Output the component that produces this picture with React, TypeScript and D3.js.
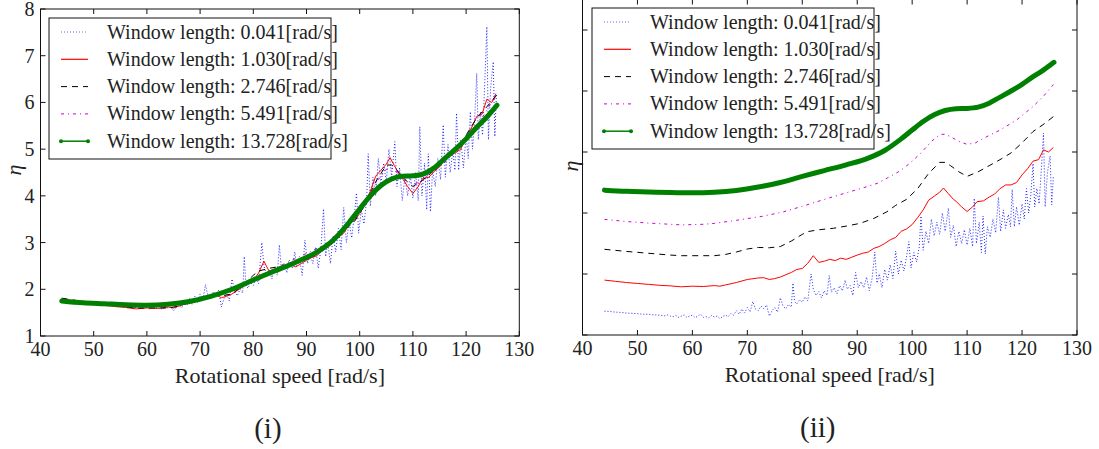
import React from 'react';
import * as d3 from 'd3';

// ---------------- data ----------------
const xTicks = [40, 50, 60, 70, 80, 90, 100, 110, 120, 130];
const leftYTicks = [1, 2, 3, 4, 5, 6, 7, 8];
const rightYTicks = [1, 3, 5, 7, 9, 11];
const windowLengths = ['0.041', '1.030', '2.746', '5.491', '13.728'];
const stackOffsets = [0, 1, 2, 3, 4];
const xLabel = 'Rotational speed [rad/s]';
const yLabel = 'η';
const captions = ['(i)', '(ii)'];

// Window length 0.041 (noisy)
const blueSpeed = [
  44, 45, 46, 47, 48, 49, 50, 51, 52, 53, 54, 55, 55.5, 56, 56.5, 57, 57.5, 58, 58.5, 59, 59.5, 60, 60.5, 61, 61.5, 62,
  62.5, 63, 63.5, 64, 64.5, 65, 65.5, 66, 66.5, 67, 67.5, 68, 68.5, 69, 69.5, 70, 70.5, 71, 71.5, 72, 72.5, 73, 73.5,
  74, 74.5, 75, 75.5, 76, 76.5, 77, 77.5, 78, 78.3, 78.6, 79, 79.5, 80, 80.5, 81, 81.6, 82, 82.5, 83, 83.5, 84, 84.5,
  84.9, 85.3, 85.8, 86.3, 86.8, 87.3, 87.8, 88.2, 88.7, 89.2, 89.7, 90.2, 90.7, 91.2, 91.7, 92.2, 92.7, 93.2, 93.6, 94,
  94.5, 95, 95.5, 96, 96.5, 97, 97.5, 98, 98.5, 99, 99.4, 99.8, 100.3, 100.8, 101.3, 101.6, 102, 102.5, 103, 103.5, 104,
  104.5, 105, 105.5, 106, 106.6, 107, 107.5, 108, 108.5, 109, 109.5, 110, 110.5, 111, 111.3, 111.7, 112.2, 112.6, 112.9,
  113.3, 113.7, 114.2, 114.7, 115.2, 115.7, 116.1, 116.6, 117, 117.5, 117.9, 118.2, 118.6, 119, 119.5, 120, 120.4, 120.8,
  121.2, 121.6, 122, 122.3, 122.7, 123.1, 123.5, 123.9, 124.2, 124.6, 125.1, 125.4, 125.7,
];
const blueEta = [
  1.78, 1.77, 1.75, 1.74, 1.72, 1.71, 1.7, 1.68, 1.68, 1.66, 1.65, 1.63, 1.66, 1.62, 1.6, 1.64, 1.58, 1.62, 1.66, 1.58, 1.62,
  1.65, 1.57, 1.62, 1.68, 1.58, 1.6, 1.56, 1.64, 1.59, 1.62, 1.54, 1.6, 1.66, 1.6, 1.7, 1.65, 1.8, 1.68, 1.85, 1.72, 1.9,
  1.76, 2.1, 1.85, 1.8, 1.95, 1.86, 1.98, 1.62, 1.8, 1.9, 1.75, 2.22, 1.95, 1.86, 2.0, 1.92, 2.7, 2.1, 2.02, 2.15, 2.08,
  2.25, 2.12, 3.0, 2.5, 2.3, 2.42, 2.22, 2.45, 2.3, 2.95, 2.4, 2.55, 2.35, 2.62, 2.45, 2.8, 2.5, 2.62, 2.3, 3.05, 2.55,
  2.75, 2.55, 2.9, 2.45, 2.85, 3.72, 2.7, 3.0, 2.55, 3.15, 2.8, 3.3, 2.85, 3.75, 3.0, 3.45, 3.1, 3.6, 4.06, 3.2, 3.7,
  3.4, 3.9, 4.9, 3.78, 4.4, 4.0, 4.8, 4.25, 4.7, 4.3, 5.0, 4.4, 5.16, 4.2, 4.6, 3.9, 4.4, 4.0, 4.45, 3.95, 4.5, 3.9, 5.48,
  4.0, 4.7, 3.7, 4.9, 3.66, 4.55, 4.2, 4.8, 4.35, 5.52, 4.4, 5.1, 4.5, 4.95, 4.55, 5.77, 4.55, 5.2, 4.6, 5.3, 4.8, 5.8,
  5.0, 5.6, 6.62, 5.2, 5.8, 5.3, 6.4, 7.62, 5.2, 6.3, 6.87, 5.27, 6.2,
];

// Window length 1.030
const redSpeed = [
  44, 46, 48, 50, 52, 54, 56, 58, 60, 62, 64, 65, 66, 68, 70, 72, 73, 74, 75, 76, 78, 79, 80, 81, 82, 83, 84, 85, 86, 87,
  88, 89, 90, 91, 92, 93, 94, 95, 96, 97, 98, 99, 100, 101, 102, 103, 104, 105, 105.7, 106.5, 107.5, 108, 109, 110, 111,
  111.8, 113, 114, 115, 116, 117, 118, 119, 120, 121, 122, 123, 123.9, 124.8, 125.7,
];
const redEta = [
  1.8, 1.76, 1.72, 1.69, 1.66, 1.63, 1.61, 1.58, 1.6, 1.59, 1.62, 1.6, 1.64, 1.72, 1.82, 1.87, 1.88, 1.82, 1.85, 1.9,
  2.05, 2.15, 2.18, 2.35, 2.6, 2.38, 2.42, 2.48, 2.44, 2.52, 2.48, 2.55, 2.62, 2.68, 2.72, 2.84, 2.9, 3.0, 3.12, 3.2, 3.4,
  3.48, 3.62, 3.85, 4.1, 4.42, 4.55, 4.68, 4.82, 4.65, 4.45, 4.38, 4.2, 4.05, 4.2, 4.37, 4.4, 4.52, 4.62, 4.8, 4.92, 4.92,
  5.0, 5.25, 5.45, 5.7, 5.75, 6.07, 6.0, 6.15,
];

// Window length 2.746
const blackSpeed = [
  44, 48, 52, 56, 58, 62, 64, 66, 68, 70, 72, 74, 76, 78, 80, 81, 83, 85.7, 88, 90.5, 93, 95.4, 97, 99, 101, 103, 105,
  106, 107, 108.5, 110, 112, 114, 116, 118, 120, 122, 124, 125.7,
];
const blackEta = [
  1.81, 1.74, 1.68, 1.62, 1.6, 1.6, 1.6, 1.64, 1.72, 1.82, 1.87, 1.86, 1.9, 2.08, 2.3, 2.39, 2.45, 2.5, 2.57, 2.66, 2.82,
  3.04, 3.25, 3.45, 3.8, 4.3, 4.66, 4.66, 4.55, 4.35, 4.2, 4.35, 4.55, 4.75, 4.97, 5.3, 5.67, 5.92, 6.16,
];

// Window length 5.491
const magentaSpeed = [
  44, 48, 52, 56, 58, 62, 64, 68, 70.5, 73, 76.6, 80, 82.7, 85, 88.7, 91, 93.6, 95.5, 97.8, 99.5, 101.5, 103.5, 105.1,
  106, 107, 108.5, 110, 111.5, 113, 116, 119, 122, 124, 125.7,
];
const magentaEta = [
  1.79, 1.72, 1.67, 1.63, 1.61, 1.63, 1.66, 1.76, 1.83, 1.9, 2.04, 2.22, 2.37, 2.5, 2.7, 2.82, 2.97, 3.15, 3.38, 3.62,
  3.95, 4.35, 4.58, 4.58, 4.5, 4.35, 4.25, 4.3, 4.45, 4.72, 5.05, 5.49, 5.85, 6.21,
];

// Window length 13.728
const greenSpeed = [
  44, 48, 52, 56, 60, 64, 68, 72, 76, 80, 84, 88, 92, 95, 98, 100, 102, 104, 106, 108, 110, 112, 114, 116, 118, 120, 122,
  124, 125.8,
];
const greenEta = [
  1.75, 1.71, 1.69, 1.67, 1.66, 1.68, 1.74, 1.85, 2.0, 2.2, 2.39, 2.58, 2.8, 3.05, 3.43, 3.72, 4.0, 4.22, 4.36, 4.42, 4.43,
  4.47, 4.6, 4.8, 5.0, 5.22, 5.47, 5.7, 5.94,
];

const seriesSpeed = [blueSpeed, redSpeed, blackSpeed, magentaSpeed, greenSpeed];
const seriesEta = [blueEta, redEta, blackEta, magentaEta, greenEta];

// ---------------- styles ----------------
const FONT = '"Liberation Serif", "DejaVu Serif", serif';
const styles = [
  { stroke: '#0000ff', width: 1, dash: '1 2', legendWidth: 1, marker: false, opacity: 0.85 },
  { stroke: '#ff0000', width: 1, dash: undefined, legendWidth: 1.2, marker: false, opacity: 1 },
  { stroke: '#000000', width: 1, dash: '6 5', legendWidth: 1, marker: false, opacity: 1 },
  { stroke: '#cc00cc', width: 1, dash: '3 4 1 4', legendWidth: 1, marker: false, opacity: 1 },
  { stroke: '#008000', width: 5, dash: undefined, legendWidth: 1.5, marker: true, opacity: 1 },
];

type PanelProps = {
  x: d3.ScaleLinear<number, number>;
  y: d3.ScaleLinear<number, number>;
  yTicks: number[];
  showYTickLabels: boolean;
  offsets: number[];
  legendX: number;
  legendY: number;
  caption: string;
  yLabelX: number;
  yLabelY: number;
};

function Panel({ x, y, yTicks, showYTickLabels, offsets, legendX, legendY, caption, yLabelX, yLabelY }: PanelProps) {
  const [x0, x1] = x.range();
  const [y0, y1] = y.range(); // y0 bottom, y1 top
  const tick = 5;
  const cx = (x0 + x1) / 2;
  const clipId = `clip-${Math.round(x0)}`;
  return (
    <g>
      <defs>
        <clipPath id={clipId}>
          <rect x={x0} y={Math.max(y1, 0)} width={x1 - x0} height={y0 - Math.max(y1, 0)} />
        </clipPath>
      </defs>
      <g clipPath={`url(#${clipId})`}>
        {seriesSpeed.map((sp, i) => {
          const pts = sp.map((s, k) => [s, seriesEta[i][k] + offsets[i]] as [number, number]);
          const line = d3
            .line<[number, number]>()
            .x((d) => x(d[0]))
            .y((d) => y(d[1]))
            .curve(i === 4 ? d3.curveMonotoneX : d3.curveLinear);
          const st = styles[i];
          return (
            <path
              key={i}
              d={line(pts) || ''}
              fill="none"
              stroke={st.stroke}
              strokeWidth={st.width}
              strokeDasharray={st.dash}
              strokeOpacity={st.opacity}
              strokeLinejoin="round"
              strokeLinecap={i === 4 ? 'round' : 'butt'}
            />
          );
        })}
      </g>
      {/* frame */}
      <rect x={x0} y={y1} width={x1 - x0} height={y0 - y1} fill="none" stroke="#111" strokeWidth={1} />
      {/* x ticks */}
      {xTicks.map((t) => (
        <g key={`xt${t}`}>
          <line x1={x(t)} x2={x(t)} y1={y0} y2={y0 - tick} stroke="#111" />
          <line x1={x(t)} x2={x(t)} y1={y1} y2={y1 + tick} stroke="#111" />
          <text x={x(t)} y={y0 + 20} textAnchor="middle" fontFamily={FONT} fontSize={20} fill="#222">
            {t}
          </text>
        </g>
      ))}
      {/* y ticks */}
      {yTicks.map((t) => (
        <g key={`yt${t}`}>
          <line x1={x0} x2={x0 + tick} y1={y(t)} y2={y(t)} stroke="#111" />
          <line x1={x1} x2={x1 - tick} y1={y(t)} y2={y(t)} stroke="#111" />
          {showYTickLabels && (
            <text x={x0 - 6} y={y(t) + 7} textAnchor="end" fontFamily={FONT} fontSize={20} fill="#222">
              {t}
            </text>
          )}
        </g>
      ))}
      {/* axis labels */}
      <text x={cx} y={y0 + 47} textAnchor="middle" fontFamily={FONT} fontSize={22} fill="#222">
        {xLabel}
      </text>
      <text
        transform={`translate(${yLabelX},${yLabelY}) rotate(-90)`}
        textAnchor="middle"
        fontFamily={FONT}
        fontStyle="italic"
        fontSize={22}
        fill="#222"
      >
        {yLabel}
      </text>
      <text x={cx - 12} y={y0 + 102} textAnchor="middle" fontFamily={FONT} fontSize={29} fill="#222">
        {caption}
      </text>
      {/* legend */}
      <rect x={legendX} y={legendY} width={282} height={141} fill="#fff" stroke="#111" strokeWidth={1} />
      {windowLengths.map((w, i) => {
        const ry = legendY + 14 + i * 27.3;
        const st = styles[i];
        return (
          <g key={`lg${i}`}>
            <line
              x1={legendX + 12}
              x2={legendX + 39}
              y1={ry}
              y2={ry}
              stroke={st.stroke}
              strokeWidth={st.legendWidth}
              strokeDasharray={st.dash}
              strokeOpacity={i === 0 ? 0.6 : 1}
            />
            {st.marker && (
              <>
                <circle cx={legendX + 12} cy={ry} r={2} fill={st.stroke} />
                <circle cx={legendX + 39} cy={ry} r={2} fill={st.stroke} />
              </>
            )}
            <text x={legendX + 58} y={ry + 6.5} fontFamily={FONT} fontSize={20} fill="#222">
              {`Window length: ${w}[rad/s]`}
            </text>
          </g>
        );
      })}
    </g>
  );
}

export default function App() {
  const xL = d3.scaleLinear().domain([40, 130]).range([40.5, 519.3]);
  const yL = d3.scaleLinear().domain([1, 8]).range([336, 9]);
  const xR = d3.scaleLinear().domain([40, 130]).range([582.5, 1077]);
  const yR = d3.scaleLinear().domain([1, 12]).range([335, -0.5]);
  return (
    <svg
      width={1099}
      height={449}
      style={{ position: 'absolute', left: 0, top: 0, background: '#fff' }}
      xmlns="http://www.w3.org/2000/svg"
    >
      <rect x={0} y={0} width={1099} height={449} fill="#fff" />
      <Panel
        x={xL}
        y={yL}
        yTicks={leftYTicks}
        showYTickLabels={true}
        offsets={[0, 0, 0, 0, 0]}
        legendX={49}
        legendY={18}
        caption={captions[0]}
        yLabelX={21}
        yLabelY={170}
      />
      <Panel
        x={xR}
        y={yR}
        yTicks={rightYTicks}
        showYTickLabels={false}
        offsets={stackOffsets}
        legendX={592}
        legendY={8}
        caption={captions[1]}
        yLabelX={578}
        yLabelY={166}
      />
    </svg>
  );
}
